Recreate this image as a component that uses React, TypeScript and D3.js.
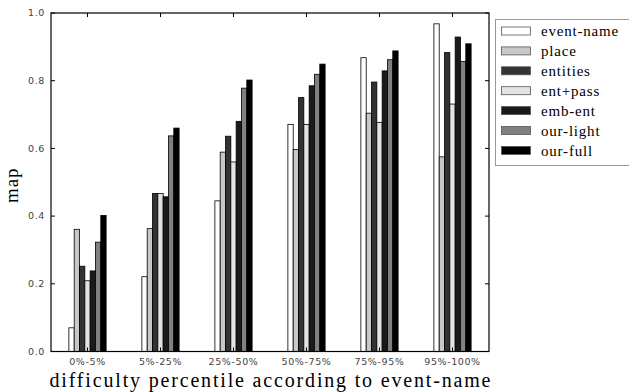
import React, { useEffect, useRef } from 'react';
import * as d3 from 'd3';

const categories = ['0%-5%', '5%-25%', '25%-50%', '50%-75%', '75%-95%', '95%-100%'];
const seriesNames = ['event-name', 'place', 'entities', 'ent+pass', 'emb-ent', 'our-light', 'our-full'];
const seriesColors = ['#ffffff', '#c8c8c8', '#333333', '#e3e3e3', '#1a1a1a', '#808080', '#000000'];

// values per series, one per category
const eventName = [0.07, 0.221, 0.445, 0.671, 0.868, 0.968];
const place = [0.361, 0.363, 0.589, 0.597, 0.704, 0.575];
const entities = [0.252, 0.467, 0.636, 0.75, 0.796, 0.883];
const entPass = [0.209, 0.467, 0.56, 0.671, 0.677, 0.731];
const embEnt = [0.238, 0.457, 0.68, 0.785, 0.829, 0.929];
const ourLight = [0.323, 0.637, 0.778, 0.819, 0.862, 0.857];
const ourFull = [0.402, 0.66, 0.802, 0.849, 0.888, 0.909];

const seriesValues = [eventName, place, entities, entPass, embEnt, ourLight, ourFull];
const yTicks = [0, 0.2, 0.4, 0.6, 0.8, 1.0];

const W = 629;
const H = 392;

export default function App() {
  const svgRef = useRef<SVGSVGElement>(null);

  useEffect(() => {
    const svg = d3.select(svgRef.current);
    svg.selectAll('*').remove();

    const margin = { top: 13, right: 140, bottom: 40.5, left: 51 };
    const innerWidth = W - margin.left - margin.right;
    const innerHeight = H - margin.top - margin.bottom;

    const x0 = d3.scaleBand().domain(categories).range([0, innerWidth]);
    const groupW = x0.bandwidth() * 0.51;
    const x1 = d3
      .scaleBand()
      .domain(seriesNames)
      .range([(x0.bandwidth() - groupW) / 2, (x0.bandwidth() + groupW) / 2]);
    const y = d3.scaleLinear().domain([0, 1]).range([innerHeight, 0]);

    const g = svg.append('g').attr('transform', `translate(${margin.left}, ${margin.top})`);

    // bars
    categories.forEach((cat, ci) => {
      const cg = g.append('g').attr('transform', `translate(${x0(cat)}, 0)`);
      seriesNames.forEach((name, si) => {
        const v = seriesValues[si][ci];
        cg.append('rect')
          .attr('x', x1(name)!)
          .attr('y', y(v))
          .attr('width', x1.bandwidth())
          .attr('height', innerHeight - y(v))
          .attr('fill', seriesColors[si])
          .attr('stroke', '#000')
          .attr('stroke-width', 0.8);
      });
    });

    const tickLen = 4;
    const tickFont = (sel: d3.Selection<SVGTextElement, unknown, null, undefined>) =>
      sel
        .style('font-family', 'DejaVu Sans')
        .style('font-size', '9.5px')
        .style('letter-spacing', '0.6px')
        .attr('fill', '#444');

    // y ticks (left + right, inward)
    yTicks.forEach((t) => {
      g.append('line')
        .attr('x1', 0).attr('x2', tickLen)
        .attr('y1', y(t)).attr('y2', y(t))
        .attr('stroke', '#000');
      g.append('line')
        .attr('x1', innerWidth - tickLen).attr('x2', innerWidth)
        .attr('y1', y(t)).attr('y2', y(t))
        .attr('stroke', '#000');
      g.append('text')
        .attr('x', -6)
        .attr('y', y(t))
        .attr('dy', '0.35em')
        .attr('text-anchor', 'end')
        .call(tickFont)
        .text(d3.format('.1f')(t));
    });

    // x ticks (top + bottom, inward)
    categories.forEach((cat) => {
      const cx = x0(cat)! + x0.bandwidth() / 2;
      g.append('line')
        .attr('x1', cx).attr('x2', cx)
        .attr('y1', 0).attr('y2', tickLen)
        .attr('stroke', '#000');
      g.append('line')
        .attr('x1', cx).attr('x2', cx)
        .attr('y1', innerHeight - tickLen).attr('y2', innerHeight)
        .attr('stroke', '#000');
      g.append('text')
        .attr('x', cx)
        .attr('y', innerHeight + 13)
        .attr('text-anchor', 'middle')
        .call(tickFont)
        .text(cat);
    });

    // frame
    g.append('rect')
      .attr('width', innerWidth)
      .attr('height', innerHeight)
      .attr('fill', 'none')
      .attr('stroke', '#000')
      .attr('stroke-width', 1.2);

    // axis labels
    g.append('text')
      .attr('x', innerWidth / 2)
      .attr('y', innerHeight + 35)
      .attr('text-anchor', 'middle')
      .attr('textLength', 441)
      .attr('lengthAdjust', 'spacing')
      .style('font-family', "'Liberation Serif', serif")
      .style('font-size', '20px')
      .attr('fill', '#000')
      .text('difficulty percentile according to event-name');

    g.append('text')
      .attr('transform', `translate(${-33}, ${innerHeight / 2 + 3}) rotate(-90)`)
      .attr('text-anchor', 'middle')
      .style('font-family', "'Liberation Serif', serif")
      .style('font-size', '19px')
      .style('letter-spacing', '1px')
      .attr('fill', '#000')
      .text('map');

    // legend
    const lg = svg.append('g').attr('transform', 'translate(495, 19)');
    lg.append('rect')
      .attr('x', 0.5).attr('y', 0.5)
      .attr('width', 140).attr('height', 146)
      .attr('fill', '#fff')
      .attr('stroke', '#999');
    seriesNames.forEach((name, i) => {
      const cy = 12 + i * 19.9;
      lg.append('rect')
        .attr('x', 6.5).attr('y', cy - 4)
        .attr('width', 29).attr('height', 8)
        .attr('fill', seriesColors[i])
        .attr('stroke', '#555')
        .attr('stroke-width', 0.8);
      lg.append('text')
        .attr('x', 46)
        .attr('y', cy)
        .attr('dy', '0.35em')
        .style('font-family', "'Liberation Serif', serif")
        .style('font-size', '15px')
        .style('letter-spacing', '0.8px')
        .attr('fill', '#000')
        .text(name);
    });
  }, []);

  return (
    <svg
      ref={svgRef}
      width={W}
      height={H}
      style={{ position: 'absolute', left: 0, top: 0, background: '#fff' }}
    />
  );
}
